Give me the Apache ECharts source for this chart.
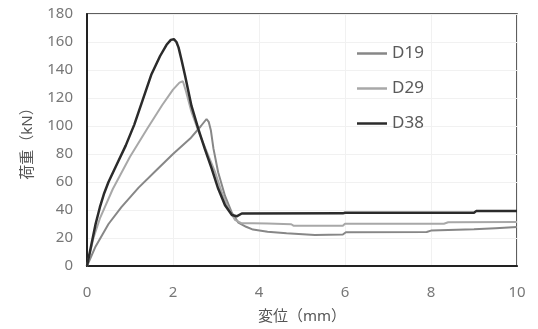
<!DOCTYPE html>
<html>
<head>
<meta charset="utf-8">
<script src="https://cdn.jsdelivr.net/npm/echarts@6/dist/echarts.min.js"></script>
<style>
  html, body { margin: 0; padding: 0; background: #fff; }
  #chart { width: 538px; height: 329px; }
</style>
</head>
<body>
<div id="chart"></div>
<script>
// displacement (mm) / load (kN)
const d19Disp = [0, 0.2, 0.5, 0.8, 1.2, 1.6, 2.0, 2.4, 2.65, 2.78, 2.83, 2.88, 2.94, 3.05, 3.21, 3.37, 3.52, 3.7, 3.86, 4.2, 4.64, 5.3, 5.95, 6.02, 7.9, 8.0, 9.0, 9.5, 10];
const d19Load = [0, 14, 30, 42, 56, 68, 80, 91, 100, 105, 103, 97, 84, 67, 50, 38, 31, 28, 26, 24.5, 23.4, 22.2, 22.5, 24.1, 24.3, 25.3, 26.2, 27, 27.8];

const d29Disp = [0, 0.15, 0.3, 0.6, 1.0, 1.4, 1.75, 2.0, 2.15, 2.23, 2.3, 2.43, 2.62, 2.82, 2.98, 3.13, 3.29, 3.44, 3.6, 3.86, 4.2, 4.75, 4.8, 5.95, 6.0, 8.3, 8.4, 10];
const d29Load = [0, 20, 34, 55, 78, 98, 115, 126, 131, 132, 125, 110, 94, 79, 67, 53, 41, 33, 30.5, 30.5, 30.3, 29.8, 28.8, 28.8, 30.2, 30.2, 31.2, 31.5];

const d38Disp = [0, 0.1, 0.2, 0.3, 0.4, 0.5, 0.7, 0.9, 1.1, 1.3, 1.5, 1.7, 1.85, 1.95, 2.02, 2.08, 2.13, 2.2, 2.28, 2.43, 2.59, 2.74, 2.9, 3.05, 3.21, 3.37, 3.48, 3.6, 5.95, 6.0, 9.0, 9.05, 10];
const d38Load = [0, 15, 30, 42, 52, 60, 73, 86, 101, 119, 137, 150, 158, 161.5, 162, 160, 156, 147, 136, 114.3, 97.8, 83.6, 69.5, 55.3, 43.4, 36.4, 35.5, 37.5, 37.6, 38, 38, 39.2, 39.2];

const xTicks = { min: 0, max: 10, step: 2 };
const yTicks = { min: 0, max: 180, step: 20 };

const pairs = (xs, ys) => xs.map((x, i) => [x, ys[i]]);

const font = '"Noto Sans", "Noto Sans CJK JP", sans-serif';

const chart = echarts.init(document.getElementById('chart'), null, { renderer: 'canvas' });

const option = {
	animation: false,
	backgroundColor: '#fff',
	textStyle: { fontFamily: font },
	grid: {
		left: 87,
		right: 21,
		top: 14,
		bottom: 61,
		show: true,
		borderColor: '#2a2a2a',
		borderWidth: 1.5
	},
	legend: {
		orient: 'vertical',
		left: 352,
		top: 40,
		icon: 'rect',
		itemWidth: 30,
		itemHeight: 2.5,
		itemGap: 18,
		textStyle: { fontSize: 17, color: '#5a5a5a', fontFamily: font },
		data: ['D19', 'D29', 'D38']
	},
	xAxis: {
		type: 'value',
		min: xTicks.min,
		max: xTicks.max,
		interval: xTicks.step,
		name: '変位（mm）',
		nameLocation: 'middle',
		nameGap: 43,
		nameTextStyle: { fontSize: 15, color: '#555', fontFamily: font },
		axisLine: { lineStyle: { color: '#222', width: 2 } },
		axisTick: { show: false },
		axisLabel: { fontSize: 15, color: '#777', margin: 19 },
		splitLine: { lineStyle: { color: '#f1f1f1' } }
	},
	yAxis: {
		type: 'value',
		min: yTicks.min,
		max: yTicks.max,
		interval: yTicks.step,
		name: '荷重（kN）',
		nameLocation: 'middle',
		nameGap: 52,
		nameTextStyle: { fontSize: 15, color: '#555', fontFamily: font },
		axisLine: { show: true, lineStyle: { color: '#222', width: 2 } },
		axisTick: { show: false },
		axisLabel: { fontSize: 15, color: '#777', margin: 14 },
		splitLine: { lineStyle: { color: '#f1f1f1' } }
	},
	series: [
		{
			name: 'D19',
			type: 'line',
			symbol: 'none',
			data: pairs(d19Disp, d19Load),
			lineStyle: { color: '#878787', width: 2 },
			itemStyle: { color: '#878787' }
		},
		{
			name: 'D29',
			type: 'line',
			symbol: 'none',
			data: pairs(d29Disp, d29Load),
			lineStyle: { color: '#a8a8a8', width: 2 },
			itemStyle: { color: '#a8a8a8' }
		},
		{
			name: 'D38',
			type: 'line',
			symbol: 'none',
			data: pairs(d38Disp, d38Load),
			lineStyle: { color: '#2b2b2b', width: 2.5 },
			itemStyle: { color: '#2b2b2b' }
		}
	]
};

chart.setOption(option);
</script>
</body>
</html>
